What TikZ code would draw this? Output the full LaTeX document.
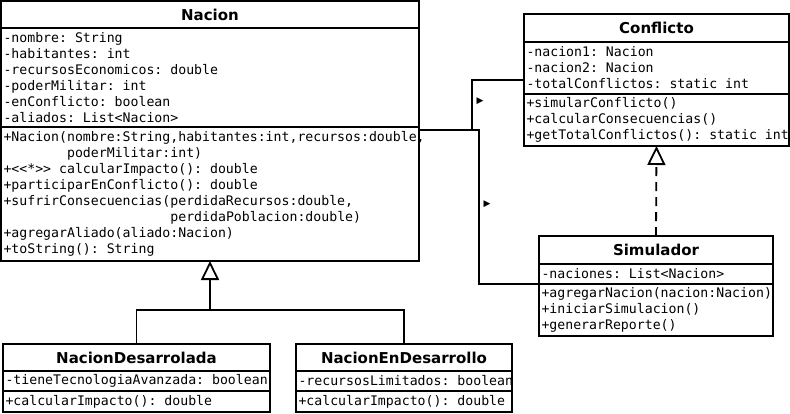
\documentclass[tikz,border=0pt]{standalone}
\usepackage{fontspec}
\setsansfont{DejaVu Sans}
\setmonofont{DejaVu Sans Mono}
\newfontfamily\symfont{DejaVu Sans}
\usetikzlibrary{arrows.meta,positioning}
\newcommand{\sps}{\hphantom{0}}

\begin{document}
\begin{tikzpicture}[x=1pt,y=-1pt]
			\tikzstyle{Box}		= [draw, line width=1.8pt, inner sep=0pt, outer sep=0pt]
			\tikzstyle{Title}	= [Box, font=\sffamily\bfseries\fontsize{15}{18}\selectfont]
			\tikzstyle{Comp}	= [Box, anchor=north, align=left, inner xsep=2.5pt, font=\ttfamily\fontsize{13.2}{16}\selectfont]
			\tikzstyle{Link}	= [line width=1.8pt]
			\tikzstyle{Inherit}	= [Link, -{Triangle[open, length=19pt, width=18pt]}]
			\tikzstyle{Realize}	= [Inherit, dash pattern=on 9pt off 6pt]
			\tikzstyle{Dir}		= [inner sep=0pt, font=\symfont\fontsize{9}{9}\selectfont]

			\useasboundingbox (0,0) rectangle (790,413);

			% Nacion
			\node (nacion) at (210,14.5) [Title, minimum width=418pt, minimum height=27pt] {Nacion};
			\node (nacionA) [Comp, below=0pt of nacion, text width=413pt, minimum height=99pt]
				{-nombre:\sps String\\-habitantes:\sps int\\-recursosEconomicos:\sps double\\-poderMilitar:\sps int\\-enConflicto:\sps boolean\\-aliados:\sps List<Nacion>};
			\node (nacionO) [Comp, below=0pt of nacionA, text width=413pt, minimum height=134pt]
				{+Nacion(nombre:String,habitantes:int,recursos:double,\\
				 \phantom{xxxxxxxx}poderMilitar:int)\\
				 +<<*>>\sps calcularImpacto():\sps double\\
				 +participarEnConflicto():\sps double\\
				 +sufrirConsecuencias(perdidaRecursos:double,\\
				 \phantom{+sufrirConsecuencias(}perdidaPoblacion:double)\\
				 +agregarAliado(aliado:Nacion)\\
				 +toString():\sps String};

			% Conflicto
			\node (conflicto) at (656.5,28) [Title, minimum width=265pt, minimum height=28pt] {Conflicto};
			\node (conflictoA) [Comp, below=0pt of conflicto, text width=260pt, minimum height=52pt]
				{-nacion1:\sps Nacion\\-nacion2:\sps Nacion\\-totalConflictos:\sps static\sps int};
			\node (conflictoO) [Comp, below=0pt of conflictoA, text width=260pt, minimum height=52pt]
				{+simularConflicto()\\+calcularConsecuencias()\\+getTotalConflictos():\sps static\sps int};

			% Simulador
			\node (simulador) at (656,250) [Title, minimum width=234pt, minimum height=28pt] {Simulador};
			\node (simuladorA) [Comp, below=0pt of simulador, text width=229pt, minimum height=20pt]
				{-naciones:\sps List<Nacion>};
			\node (simuladorO) [Comp, below=0pt of simuladorA, text width=229pt, minimum height=52pt]
				{+agregarNacion(nacion:Nacion)\\+iniciarSimulacion()\\+generarReporte()};

			% subclases
			\node (desarrolladaT) at (136.5,357.5) [Title, minimum width=267pt, minimum height=27pt] {NacionDesarrolada};
			\node (desarrolladaA) [Comp, below=0pt of desarrolladaT, text width=262pt, minimum height=20pt]
				{-tieneTecnologiaAvanzada:\sps boolean};
			\node (desarrolladaO) [Comp, below=0pt of desarrolladaA, text width=262pt, minimum height=21pt]
				{+calcularImpacto():\sps double};

			\node (enDesarrolloT) at (404,357.5) [Title, minimum width=216pt, minimum height=27pt] {NacionEnDesarrollo};
			\node (enDesarrolloA) [Comp, below=0pt of enDesarrolloT, text width=211pt, minimum height=20pt]
				{-recursosLimitados:\sps boolean};
			\node (enDesarrolloO) [Comp, below=0pt of enDesarrolloA, text width=211pt, minimum height=21pt]
				{+calcularImpacto():\sps double};

			% asociaciones
			\draw [Link] ([yshift=-3pt]nacionO.north east) -- ++(53,0) |- ([yshift=-12pt]conflictoA.west);
			\draw [Link] (simuladorO.north west) -| ([xshift=60pt,yshift=-3pt]nacionO.north east) -- ([yshift=-3pt]nacionO.north east);
			\node (dir1) at (480,101) [Dir] {▶};
			\node (dir2) at (487,204.5) [Dir] {▶};

			% herencia
			\coordinate (genbar) at (nacionO.south |- 0,310);
			\draw [Link] (desarrolladaT.north) -- ++(0,-34) -| (enDesarrolloT.north);
			\draw [Inherit] (genbar) -- (nacionO.south);
			\draw [Realize] (simulador.north) -- (conflictoO.south);
		\end{tikzpicture}
\end{document}
